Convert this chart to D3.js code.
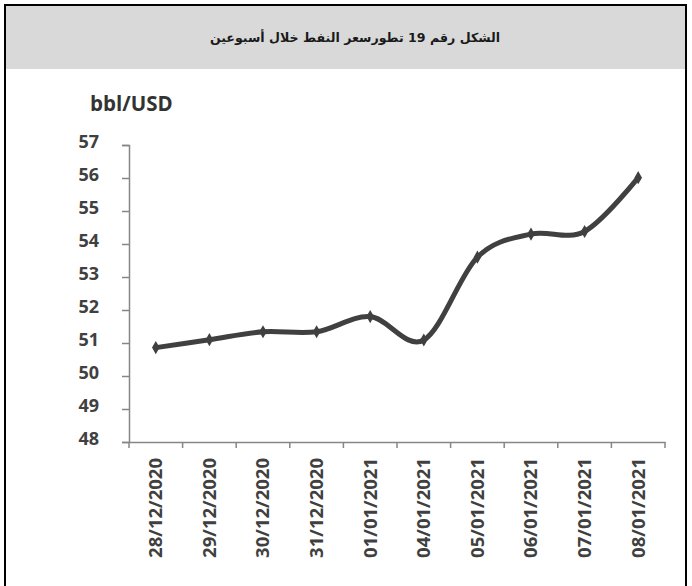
<!DOCTYPE html>
<html><head><meta charset="utf-8">
<script src="https://cdn.jsdelivr.net/npm/d3@7"></script>
<style>body{margin:0;background:#fff}</style>
</head><body>
<svg id="c" width="692" height="586"></svg>
<script>
const titleText = "الشكل رقم 19 تطورسعر النفط خلال أسبوعين";
const unitLabel = "bbl/USD";
const categories = ["28/12/2020","29/12/2020","30/12/2020","31/12/2020","01/01/2021","04/01/2021","05/01/2021","06/01/2021","07/01/2021","08/01/2021"];
const values = [50.86, 51.10, 51.34, 51.34, 51.80, 51.09, 53.60, 54.30, 54.38, 56.01];
const yTicks = [48,49,50,51,52,53,54,55,56,57];

const svg = d3.select("#c");
const ink = "#404040", axisCol = "#868686";

svg.append("rect").attr("x",5).attr("y",5).attr("width",681).attr("height",620)
  .attr("fill","#fff").attr("stroke","#000").attr("stroke-width",2);
svg.append("rect").attr("x",6).attr("y",6).attr("width",679).attr("height",63).attr("fill","#d9d9d9");
svg.append("text").attr("x",355).attr("y",42).attr("text-anchor","middle")
  .attr("font-family","'DejaVu Sans', sans-serif").attr("font-weight","bold").attr("font-size",12.6)
  .attr("fill","#1a1a1a").attr("direction","rtl").text(titleText);
svg.append("text").attr("x",90).attr("y",111)
  .attr("font-family","'Open Sans', sans-serif").attr("font-weight","bold").attr("font-size",20.5)
  .attr("fill","#333").text(unitLabel);

const x = d3.scaleBand().domain(categories).range([129,665]);
const y = d3.scaleLinear().domain([48,57]).range([442,145]);

// y axis
const yAxis = svg.append("g").attr("transform","translate(129,0)")
  .call(d3.axisLeft(y).tickValues(yTicks).tickFormat(d3.format("d")).tickSize(7).tickPadding(23));
yAxis.select(".domain").attr("stroke",axisCol).attr("stroke-width",1.5);
yAxis.selectAll(".tick line").attr("stroke",axisCol).attr("stroke-width",1.5);
yAxis.selectAll(".tick text").attr("font-family","'Open Sans', sans-serif").attr("font-weight","bold")
  .attr("font-size",18).attr("fill",ink).attr("dy","0.12em");

// x axis
const xAxis = svg.append("g").attr("transform","translate(0,442)")
  .call(d3.axisBottom(x).tickSize(0).tickPadding(0));
xAxis.select(".domain").attr("stroke",axisCol).attr("stroke-width",1.5);
xAxis.selectAll(".tick text").attr("font-family","'Open Sans', sans-serif").attr("font-weight","bold")
  .attr("font-size",18.5).attr("fill",ink)
  .attr("transform","translate(0,16) rotate(-90)").attr("text-anchor","end").attr("dy","0.35em").attr("y",0).attr("x",0);
const bounds = categories.map(c => x(c)).concat([x.range()[1]]);
svg.append("g").selectAll("line").data(bounds).join("line")
  .attr("x1",d=>d).attr("x2",d=>d).attr("y1",442).attr("y2",448)
  .attr("stroke",axisCol).attr("stroke-width",1.5);

// line
const line = d3.line().x((d,i)=>x(categories[i])+x.bandwidth()/2).y(d=>y(d)).curve(d3.curveCatmullRom.alpha(0));
svg.append("path").datum(values).attr("d",line).attr("fill","none").attr("stroke",ink).attr("stroke-width",5);
svg.append("g").selectAll("path").data(values).join("path")
  .attr("transform",(d,i)=>`translate(${x(categories[i])+x.bandwidth()/2},${y(d)})`)
  .attr("d",d3.symbol(d3.symbolDiamond,50)).attr("fill",ink);
</script>
</body></html>
